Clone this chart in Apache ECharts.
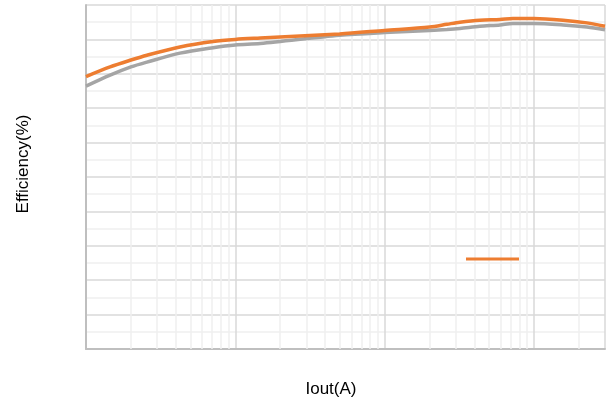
<!DOCTYPE html>
<html>
<head>
<meta charset="utf-8">
<script src="https://cdn.jsdelivr.net/npm/echarts@6/dist/echarts.min.js"></script>
<style>html,body{margin:0;padding:0;background:#fff;}#c{width:606px;height:407px;}</style>
</head>
<body>
<div id="c"></div>
<script>
// Data (log x: Iout in A, y: efficiency in %)
const ioutA     = [0.01, 0.0145, 0.02, 0.0256, 0.0426, 0.071, 0.1, 0.147, 0.5, 1.0, 2.01, 2.62, 3.2, 4.35, 5.93, 7.24, 10, 15.7, 22.7, 30];
const effOrange = [89.6, 91.0, 92.0, 92.7, 93.9, 94.7, 95.0, 95.2, 95.8, 96.3, 96.8, 97.2, 97.5, 97.8, 97.9, 98.05, 98.05, 97.8, 97.4, 96.9];
const effGray   = [88.2, 89.8, 91.0, 91.7, 93.0, 93.8, 94.2, 94.4, 95.6, 96.0, 96.3, 96.45, 96.6, 96.9, 97.1, 97.3, 97.3, 97.1, 96.8, 96.4];
const minorX = [0.02,0.03,0.04,0.05,0.06,0.07,0.08,0.09,0.2,0.3,0.4,0.5,0.6,0.7,0.8,0.9,2,3,4,5,6,7,8,9,20];
const xTitle = 'Iout(A)';
const yTitle = 'Efficiency(%)';

const pair = (xs, ys) => xs.map((x, i) => [x, ys[i]]);
const chart = echarts.init(document.getElementById('c'));
chart.setOption({
  animation: false,
  grid: { left: 86, right: 1, top: 5, bottom: 58 },
  legend: {
    data: [{ name: 'A', icon: 'rect' }],
    left: 466, top: 257.5, padding: 0,
    itemWidth: 53, itemHeight: 3,
    formatter: () => '',
    selectedMode: false
  },
  xAxis: {
    type: 'log', logBase: 10, min: 0.01, max: 30, interval: 1,
    axisLabel: { show: false }, axisTick: { show: false },
    axisLine: { show: true, lineStyle: { color: '#bfbfbf', width: 2 } },
    splitLine: { show: true, lineStyle: { color: '#d9d9d9', width: 1.5 } }
  },
  yAxis: {
    type: 'value', min: 50, max: 100, interval: 5,
    axisLabel: { show: false }, axisTick: { show: false },
    axisLine: { show: true, lineStyle: { color: '#bfbfbf', width: 2 } },
    splitLine: { show: true, lineStyle: { color: '#d9d9d9', width: 1.5 } },
    minorTick: { show: false, splitNumber: 2 },
    minorSplitLine: { show: true, lineStyle: { color: '#efefef', width: 1.5 } }
  },
  graphic: [
    { type: 'text', x: 331, y: 389, style: { text: xTitle, font: '17px Arial, "Liberation Sans"', fill: '#000', align: 'center', verticalAlign: 'middle' } },
    { type: 'text', x: 23, y: 164, rotation: Math.PI / 2, style: { text: yTitle, font: '17px Arial, "Liberation Sans"', fill: '#000', align: 'center', verticalAlign: 'middle' } }
  ],
  series: [
    {
      name: 'B', type: 'line', data: pair(ioutA, effGray), z: 3,
      smooth: 0.3, showSymbol: false, color: '#a5a5a5',
      lineStyle: { width: 3.5, color: '#a5a5a5' },
      markLine: {
        z: 1, silent: true, symbol: 'none', label: { show: false },
        lineStyle: { color: '#efefef', width: 1.5, type: 'solid' },
        data: minorX.map(v => ({ xAxis: v }))
      }
    },
    {
      name: 'A', type: 'line', data: pair(ioutA, effOrange), z: 4,
      smooth: 0.3, showSymbol: false, color: '#ed7d31',
      lineStyle: { width: 3.5, color: '#ed7d31' }
    }
  ]
});
</script>
</body>
</html>
